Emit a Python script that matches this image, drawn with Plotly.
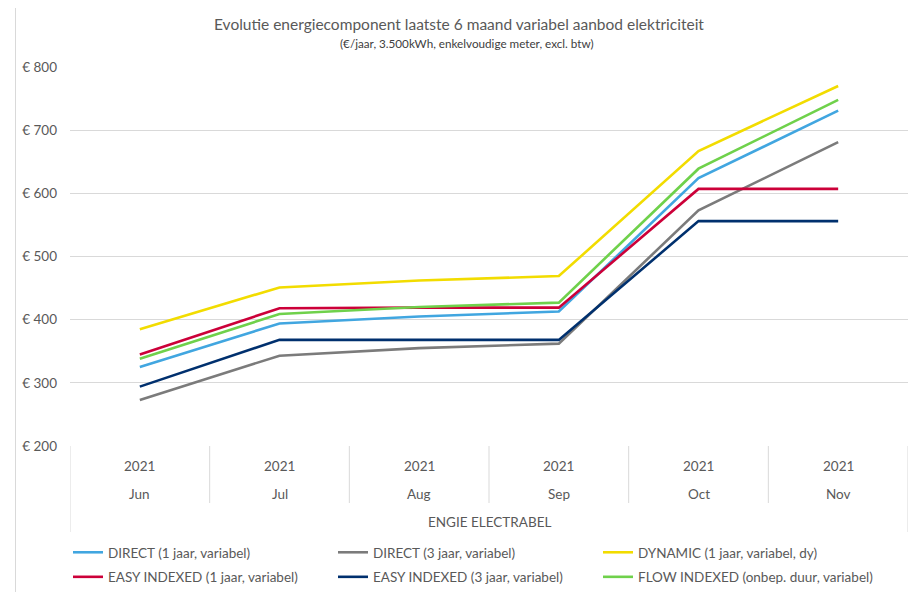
import plotly.graph_objects as go

months = ["Jun", "Jul", "Aug", "Sep", "Oct", "Nov"]
years = ["2021", "2021", "2021", "2021", "2021", "2021"]
group_label = "ENGIE ELECTRABEL"

direct_1 = [325, 394, 405, 413, 624, 731]
direct_3 = [273, 343, 355, 362, 573, 681]
dynamic_1 = [385, 451, 462, 469, 667, 770]
easy_1 = [345, 418, 419, 419, 607, 607]
easy_3 = [294, 368, 368, 368, 556, 556]
flow = [338, 409, 420, 427, 639, 748]

# (name, values, colour, legend column)
series = [
    ("DIRECT (1 jaar, variabel)", direct_1, "#41a6e0", "legend"),
    ("DIRECT (3 jaar, variabel)", direct_3, "#7b7b7b", "legend2"),
    ("DYNAMIC (1 jaar, variabel, dy)", dynamic_1, "#f2dc00", "legend3"),
    ("EASY INDEXED (1 jaar, variabel)", easy_1, "#cc0039", "legend"),
    ("EASY INDEXED (3 jaar, variabel)", easy_3, "#00306e", "legend2"),
    ("FLOW INDEXED (onbep. duur, variabel)", flow, "#6fd14b", "legend3"),
]

FONT = "Lato"
TXT = "#595959"

fig = go.Figure()
for name, vals, col, lg in series:
    fig.add_trace(go.Scatter(x=months, y=vals, name=name, mode="lines",
                             legend=lg, legendgroup=name,
                             line=dict(color=col, width=2.6)))

OFF = 8  # page body margin
W, H = 916 - OFF, 592 - OFF
L, R, T, B = 70 - OFF, 8, 67 - OFF, 592 - 446
ph = H - T - B
pw = W - L - R

def py(pix):  # screen y -> paper y
    return 1 - (pix - OFF - T) / ph

def px(pix):  # screen x -> paper x
    return (pix - OFF - L) / pw

annotations = [
    dict(text="Evolutie energiecomponent laatste 6 maand variabel aanbod elektriciteit",
         xref="paper", yref="paper", x=px(459), y=py(24), yanchor="middle",
         showarrow=False, font=dict(family=FONT, size=15.5, color=TXT)),
    dict(text="(€/jaar, 3.500kWh, enkelvoudige meter, excl. btw)",
         xref="paper", yref="paper", x=px(467), y=py(43), yanchor="middle",
         showarrow=False, font=dict(family=FONT, size=11.7, color="#404040")),
    dict(text=group_label, xref="paper", yref="paper", x=0.5, y=py(522), yanchor="middle",
         showarrow=False, font=dict(family=FONT, size=13.5, color=TXT)),
]
for m, yr in zip(months, years):
    annotations.append(dict(text=yr, xref="x", yref="paper", x=m, y=py(466), yanchor="middle",
                            showarrow=False, font=dict(family=FONT, size=13.5, color=TXT)))
    annotations.append(dict(text=m, xref="x", yref="paper", x=m, y=py(494), yanchor="middle",
                            showarrow=False, font=dict(family=FONT, size=13.5, color=TXT)))

shapes = []
grid = "#d9d9d9"
for i in range(1, len(months)):
    shapes.append(dict(type="line", xref="x", yref="paper", x0=i - 0.5, x1=i - 0.5,
                       y0=py(446), y1=py(503), line=dict(color=grid, width=1)))
for xv in (-0.5, len(months) - 0.5):
    shapes.append(dict(type="line", xref="x", yref="paper", x0=xv, x1=xv,
                       y0=py(446), y1=py(532), line=dict(color=grid, width=1)))
# outer chart border
shapes.append(dict(type="rect", xref="paper", yref="paper",
                   x0=px(15.5), x1=px(914.5), y0=py(620), y1=py(4.5),
                   line=dict(color="#d9d9d9", width=1),
                   fillcolor="rgba(0,0,0,0)", layer="below"))

def legend_at(x_screen):
    return dict(orientation="v", x=px(x_screen), xanchor="left", y=py(537), yanchor="top",
                font=dict(family=FONT, size=13.5, color=TXT), itemwidth=30,
                tracegroupgap=4, bgcolor="rgba(0,0,0,0)", borderwidth=0,
                traceorder="grouped")

fig.update_layout(
    width=W, height=H,
    margin=dict(l=L, r=R, t=T, b=B, autoexpand=False),
    paper_bgcolor="white", plot_bgcolor="white",
    font=dict(family=FONT, size=13.5, color=TXT),
    showlegend=True,
    legend=legend_at(68),
    legend2=legend_at(333),
    legend3=legend_at(598),
    annotations=annotations,
    shapes=shapes,
)
fig.update_xaxes(type="category", categoryorder="array", categoryarray=months,
                 range=[-0.5, len(months) - 0.5], showticklabels=False,
                 showgrid=False, zeroline=False, showline=False, ticks="")
fig.update_yaxes(range=[200, 800], dtick=100, tickprefix="€ ", showgrid=True,
                 gridcolor=grid, gridwidth=1, zeroline=False, showline=False,
                 ticks="", ticklabelstandoff=12,
                 tickfont=dict(family=FONT, size=13.5, color=TXT))

fig.write_html("out.html")
